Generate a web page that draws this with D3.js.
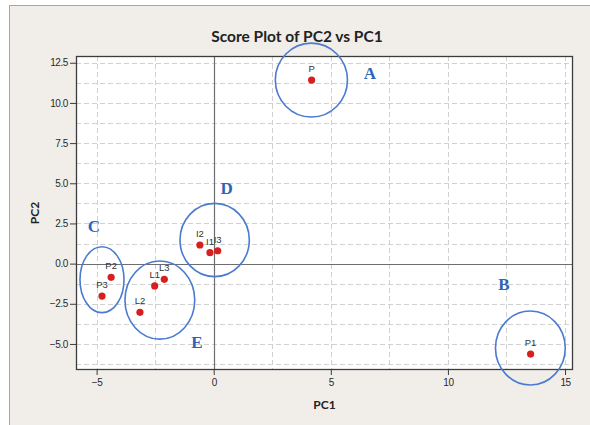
<!DOCTYPE html>
<html>
<head>
<meta charset="utf-8">
<script src="https://cdn.jsdelivr.net/npm/d3@7"></script>
<style>
  html, body { margin: 0; padding: 0; background: #ffffff; }
  svg { display: block; }
</style>
</head>
<body>
<svg id="chart" width="590" height="425"></svg>
<script>
// Sample scores on the first two principal components
const sampleNames = ["P", "P1", "P2", "P3", "L1", "L2", "L3", "I1", "I2", "I3"];
const pc1Scores = [4.18, 13.53, -4.38, -4.77, -2.52, -3.15, -2.11, -0.16, -0.59, 0.17];
const pc2Scores = [11.42, -5.63, -0.85, -2.02, -1.39, -3.03, -0.98, 0.68, 1.16, 0.80];

// Cluster outlines (centre and radii in score units) and their letters
const groupNames = ["A", "B", "C", "D", "E"];
const groupCenterPC1 = [4.17, 13.52, -4.77, 0.04, -2.30];
const groupCenterPC2 = [11.42, -5.25, -1.00, 1.47, -2.27];
const groupRadiusPC1 = [1.54, 1.49, 0.94, 1.48, 1.49];
const groupRadiusPC2 = [2.30, 2.30, 2.05, 2.28, 2.43];
const groupLabelPC1 = [6.67, 12.39, -5.12, 0.55, -0.72];
const groupLabelPC2 = [11.86, -1.27, 2.28, 4.70, -4.88];

// Axis ticks
const xTicks = [-5, 0, 5, 10, 15];
const yTicks = [-5, -2.5, 0, 2.5, 5, 7.5, 10, 12.5];
const xGrid = [-5, -2.5, 0, 2.5, 5, 7.5, 10, 12.5, 15];
const yGrid = [-6.25, -5, -3.75, -2.5, -1.25, 0, 1.25, 2.5, 3.75, 5, 6.25, 7.5, 8.75, 10, 11.25, 12.5];

const svg = d3.select("#chart");
const W = 590, H = 425;
const plot = { left: 76, right: 573, top: 56, bottom: 370 };

// Window background and frame
svg.append("rect").attr("x", 0).attr("y", 0).attr("width", W).attr("height", H).attr("fill", "#ffffff");
svg.append("rect").attr("x", 9.5).attr("y", 5.5).attr("width", W).attr("height", H)
  .attr("fill", "#f1eee9").attr("stroke", "#a9a6a1").attr("stroke-width", 1);

const x = d3.scaleLinear().domain([-5.88, 15.34]).range([plot.left, plot.right]);
const y = d3.scaleLinear().domain([-6.62, 12.92]).range([plot.bottom, plot.top]);

// Plot area
svg.append("rect")
  .attr("x", plot.left).attr("y", plot.top)
  .attr("width", plot.right - plot.left).attr("height", plot.bottom - plot.top)
  .attr("fill", "#ffffff");

// Dashed grid
const grid = svg.append("g").attr("stroke", "#d0d0d0").attr("stroke-width", 1).attr("stroke-dasharray", "5,3");
grid.selectAll("line.gx").data(xGrid).join("line").attr("class", "gx")
  .attr("x1", d => Math.round(x(d)) + 0.5).attr("x2", d => Math.round(x(d)) + 0.5)
  .attr("y1", plot.top).attr("y2", plot.bottom);
grid.selectAll("line.gy").data(yGrid).join("line").attr("class", "gy")
  .attr("y1", d => Math.round(y(d)) + 0.5).attr("y2", d => Math.round(y(d)) + 0.5)
  .attr("x1", plot.left).attr("x2", plot.right);

// Reference lines through the origin
svg.append("line")
  .attr("x1", Math.round(x(0)) + 0.5).attr("x2", Math.round(x(0)) + 0.5)
  .attr("y1", plot.top).attr("y2", plot.bottom)
  .attr("stroke", "#6e6e6e").attr("stroke-width", 1.2);
svg.append("line")
  .attr("y1", Math.round(y(0)) + 0.5).attr("y2", Math.round(y(0)) + 0.5)
  .attr("x1", plot.left).attr("x2", plot.right)
  .attr("stroke", "#6e6e6e").attr("stroke-width", 1.2);

// Plot border
svg.append("rect")
  .attr("x", plot.left + 0.5).attr("y", plot.top + 0.5)
  .attr("width", plot.right - plot.left - 1).attr("height", plot.bottom - plot.top - 1)
  .attr("fill", "none").attr("stroke", "#3c3c3c").attr("stroke-width", 1.3);

// Axes
const tickFont = "Liberation Sans, Arial, sans-serif";
const xAxis = svg.append("g").attr("transform", `translate(0,${plot.bottom})`)
  .call(d3.axisBottom(x).tickValues(xTicks).tickFormat(d3.format("d")).tickSize(5).tickPadding(4));
const yAxis = svg.append("g").attr("transform", `translate(${plot.left},0)`)
  .call(d3.axisLeft(y).tickValues(yTicks).tickFormat(d3.format(".1f")).tickSize(6).tickPadding(2));
[xAxis, yAxis].forEach(a => {
  a.select(".domain").remove();
  a.selectAll(".tick line").attr("stroke", "#3c3c3c");
  a.selectAll(".tick text").attr("fill", "#2a2a2a")
    .style("font-family", tickFont).style("font-size", "10px").style("letter-spacing", "-0.4px");
});

// Cluster outlines
svg.append("g").selectAll("ellipse").data(groupNames).join("ellipse")
  .attr("cx", (d, i) => x(groupCenterPC1[i]))
  .attr("cy", (d, i) => y(groupCenterPC2[i]))
  .attr("rx", (d, i) => x(groupRadiusPC1[i]) - x(0))
  .attr("ry", (d, i) => y(0) - y(groupRadiusPC2[i]))
  .attr("fill", "none").attr("stroke", "#4a7bd0").attr("stroke-width", 1.6);

svg.append("g").selectAll("text").data(groupNames).join("text")
  .attr("x", (d, i) => x(groupLabelPC1[i]))
  .attr("y", (d, i) => y(groupLabelPC2[i]))
  .attr("text-anchor", "middle").attr("dominant-baseline", "central")
  .attr("fill", "#2f63b8")
  .style("font-family", "Liberation Serif, Times New Roman, serif")
  .style("font-weight", "bold").style("font-size", "17px")
  .text(d => d);

// Score points and their labels
svg.append("g").selectAll("circle").data(sampleNames).join("circle")
  .attr("cx", (d, i) => x(pc1Scores[i]))
  .attr("cy", (d, i) => y(pc2Scores[i]))
  .attr("r", 3.6).attr("fill", "#d71f1f");

svg.append("g").selectAll("text").data(sampleNames).join("text")
  .attr("x", (d, i) => x(pc1Scores[i]))
  .attr("y", (d, i) => y(pc2Scores[i]) - 8)
  .attr("text-anchor", "middle")
  .attr("fill", "#333333")
  .style("font-family", tickFont).style("font-size", "9.5px")
  .text(d => d);

// Title and axis titles
svg.append("text").attr("x", 297).attr("y", 42).attr("text-anchor", "middle")
  .attr("fill", "#222222")
  .style("font-family", "Lato, sans-serif").style("font-weight", "bold").style("font-size", "15.5px")
  .text("Score Plot of PC2 vs PC1");
svg.append("text").attr("x", (plot.left + plot.right) / 2).attr("y", 409).attr("text-anchor", "middle")
  .attr("fill", "#222222")
  .style("font-family", "Lato, sans-serif").style("font-weight", "bold").style("font-size", "12px")
  .text("PC1");
svg.append("text")
  .attr("transform", `translate(39,${(plot.top + plot.bottom) / 2}) rotate(-90)`)
  .attr("text-anchor", "middle")
  .attr("fill", "#222222")
  .style("font-family", "Lato, sans-serif").style("font-weight", "bold").style("font-size", "12px")
  .text("PC2");
</script>
</body>
</html>
